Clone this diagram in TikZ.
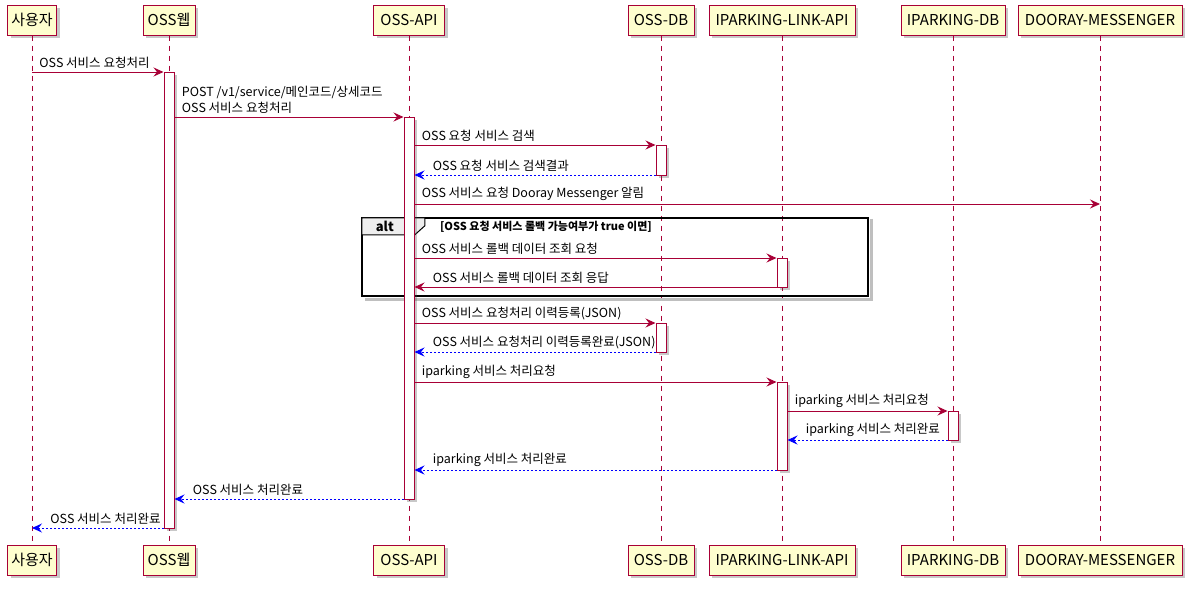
\documentclass[tikz,border=0pt]{standalone}
\usepackage{fontspec}
\setmainfont{Noto Sans CJK KR}
\usetikzlibrary{arrows.meta,shadows}
\definecolor{plred}{HTML}{A80036}
\definecolor{plfill}{HTML}{FEFECE}
\definecolor{plblue}{HTML}{0000FF}
\definecolor{altgray}{HTML}{EEEEEE}
\tikzset{
  shad/.style={drop shadow={shadow xshift=3pt,shadow yshift=-3pt,opacity=.3,fill=black!70}},
  part/.style={draw=plred, fill=plfill, line width=1pt, minimum height=30pt, inner sep=0pt,
    font=\fontsize{15}{17}\selectfont, shad},
  life/.style={draw=plred, line width=0.8pt, dash pattern=on 5pt off 5pt},
  actbar/.style={draw=plred, fill=white, line width=1pt, minimum width=10pt, inner sep=0pt, shad},
  tip/.style={-{Stealth[length=10pt,width=9pt,inset=3.5pt]}},
  msg/.style={draw=plred, line width=0.9pt, tip},
  ret/.style={draw=plblue, line width=0.9pt, dash pattern=on 2pt off 2pt, tip},
  lbl/.style={font=\fontsize{12.5}{16}\selectfont, anchor=south west, inner sep=0pt, align=left},
  flbl/.style={lbl, at start, xshift=7pt, yshift=3pt},
  rlbl/.style={lbl, at end, xshift=18pt, yshift=3pt},
}
\begin{document}
\begin{tikzpicture}[x=1pt,y=-1pt]
\useasboundingbox[fill=white] (0,0) rectangle (1193,589);
% participants
\node[part, minimum width=49pt]  (Ut) at (32,20) {사용자};
\node[part, minimum width=52pt]  (Wt) at (169,20) {OSS웹};
\node[part, minimum width=71pt]  (At) at (409,20) {OSS-API};
\node[part, minimum width=66pt]  (Dt) at (661,20) {OSS-DB};
\node[part, minimum width=146pt] (Lt) at (782,20) {IPARKING-LINK-API};
\node[part, minimum width=104pt] (Pt) at (953,20) {IPARKING-DB};
\node[part, minimum width=164pt] (Mt) at (1100,20) {DOORAY-MESSENGER};
\node[part, minimum width=49pt]  (Ub) at (32,560) {사용자};
\node[part, minimum width=52pt]  (Wb) at (169,560) {OSS웹};
\node[part, minimum width=71pt]  (Ab) at (409,560) {OSS-API};
\node[part, minimum width=66pt]  (Db) at (661,560) {OSS-DB};
\node[part, minimum width=146pt] (Lb) at (782,560) {IPARKING-LINK-API};
\node[part, minimum width=104pt] (Pb) at (953,560) {IPARKING-DB};
\node[part, minimum width=164pt] (Mb) at (1100,560) {DOORAY-MESSENGER};
% lifelines
\foreach \p in {U,W,A,D,L,P,M} \draw[life] (\p t.south) -- (\p b.north);
% alt frame
\node[minimum width=506pt, minimum height=78pt, inner sep=0pt] (alt) at (615,257) {};
\draw[black!25, line width=3pt] ([xshift=3pt,yshift=-1pt]alt.north east) -- ([xshift=3pt,yshift=-3pt]alt.south east) -- ([xshift=3pt,yshift=-3pt]alt.south west);
\draw[black, line width=2pt] (alt.north west) rectangle (alt.south east);
\draw[black, line width=1pt, fill=altgray] (alt.north west) -- ++(63,0) -- ++(0,8) -- ++(-10,9) -- ++(-53,0) -- cycle;
\node[font=\fontsize{13}{15}\selectfont\bfseries, inner sep=0pt] (altlbl) at ([xshift=23pt,yshift=-9pt]alt.north west) {alt};
\node[font=\fontsize{11}{13}\selectfont\bfseries, inner sep=0pt, anchor=west] (altcond) at ([xshift=78pt,yshift=-9pt]alt.north west) {[OSS 요청 서비스 롤백 가능여부가 true 이면]};
% activation bars
\node[actbar, minimum height=456pt] (aW)  at (169,300) {};
\node[actbar, minimum height=382pt] (aA)  at (409,308) {};
\node[actbar, minimum height=30pt]  (aD1) at (661,160) {};
\node[actbar, minimum height=29pt]  (aD2) at (661,337.5) {};
\node[actbar, minimum height=29pt]  (aL1) at (782,272.5) {};
\node[actbar, minimum height=88pt]  (aL2) at (782,426) {};
\node[actbar, minimum height=29pt]  (aP)  at (953,425.5) {};
% rows
\foreach \n/\y in {1/72,2/117,3/145,4/175,5/204,7/258,8/287,9/323,10/352,11/382,12/411,13/440,14/470,15/499,16/528}
  \coordinate (r\n) at (0,\y);
% messages
\draw[msg] (Ut |- r1) -- (aW.west |- r1) node[flbl] {OSS 서비스 요청처리};
\draw[msg] (aW.east |- r2) -- (aA.west |- r2) node[flbl] {POST /v1/service/메인코드/상세코드\\OSS 서비스 요청처리};
\draw[msg] (aA.east |- r3) -- (aD1.west |- r3) node[flbl] {OSS 요청 서비스 검색};
\draw[ret] (aD1.west |- r4) -- (aA.east |- r4) node[rlbl] {OSS 요청 서비스 검색결과};
\draw[msg] (aA.east |- r5) -- (Mt |- r5) node[flbl] {OSS 서비스 요청 Dooray Messenger 알림};
\draw[msg] (aA.east |- r7) -- (aL1.west |- r7) node[flbl] {OSS 서비스 롤백 데이터 조회 요청};
\draw[msg] (aL1.west |- r8) -- (aA.east |- r8) node[rlbl] {OSS 서비스 롤백 데이터 조회 응답};
\draw[msg] (aA.east |- r9) -- (aD2.west |- r9) node[flbl] {OSS 서비스 요청처리 이력등록(JSON)};
\draw[ret] (aD2.west |- r10) -- (aA.east |- r10) node[rlbl] {OSS 서비스 요청처리 이력등록완료(JSON)};
\draw[msg] (aA.east |- r11) -- (aL2.west |- r11) node[flbl] {iparking 서비스 처리요청};
\draw[msg] (aL2.east |- r12) -- (aP.west |- r12) node[flbl] {iparking 서비스 처리요청};
\draw[ret] (aP.west |- r13) -- (aL2.east |- r13) node[rlbl] {iparking 서비스 처리완료};
\draw[ret] (aL2.west |- r14) -- (aA.east |- r14) node[rlbl] {iparking 서비스 처리완료};
\draw[ret] (aA.west |- r15) -- (aW.east |- r15) node[rlbl] {OSS 서비스 처리완료};
\draw[ret] (aW.west |- r16) -- (Ut |- r16) node[rlbl] {OSS 서비스 처리완료};
\end{tikzpicture}
\end{document}
